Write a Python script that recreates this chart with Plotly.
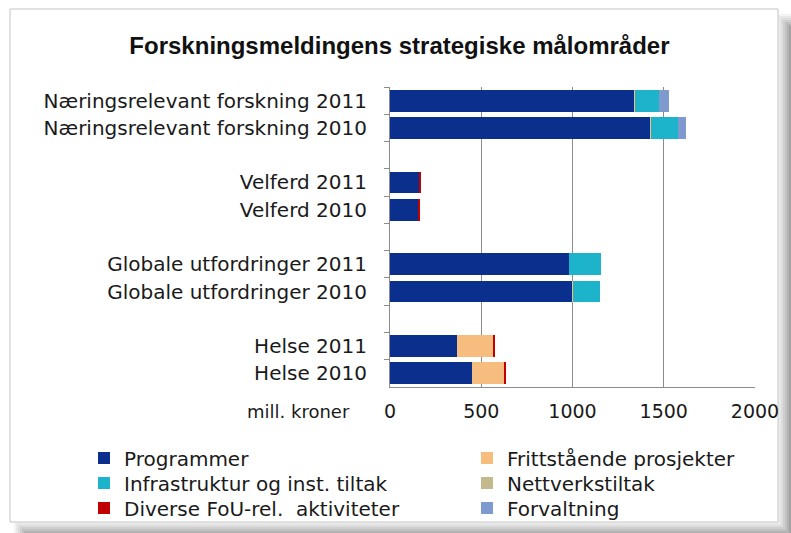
import plotly.graph_objects as go

categories = [
    "Næringsrelevant forskning 2011", "Næringsrelevant forskning 2010", " ",
    "Velferd 2011", "Velferd 2010", "  ",
    "Globale utfordringer 2011", "Globale utfordringer 2010", "   ",
    "Helse 2011", "Helse 2010",
]
programmer      = [1337, 1425, 0, 160, 156, 0, 982, 1001, 0, 369, 451]
frittstaende    = [4, 5, 0, 0, 0, 0, 0, 3, 0, 197, 176]
infrastruktur   = [135, 146, 0, 0, 0, 0, 173, 147, 0, 0, 0]
nettverkstiltak = [0, 0, 0, 0, 0, 0, 0, 0, 0, 0, 0]
diverse         = [0, 0, 0, 8, 8, 0, 0, 0, 0, 9, 9]
forvaltning     = [55, 46, 0, 0, 0, 0, 0, 0, 0, 0, 0]

series_names = ["Programmer", "Frittstående prosjekter", "Infrastruktur og inst. tiltak",
                "Nettverkstiltak", "Diverse FoU-rel.  aktiviteter", "Forvaltning"]
series_values = [programmer, frittstaende, infrastruktur, nettverkstiltak, diverse, forvaltning]
series_colors = ["#0B2F8C", "#F6BD7F", "#1DB3CB", "#C3B98C", "#C00000", "#7F9ACF"]
x_ticks = [0, 500, 1000, 1500, 2000]

W, H = 791, 533
L, R, T, B = 390, 755, 87, 387

def px(xp):
    return (xp - L) / (R - L)

def py(yp):
    return (B - yp) / (B - T)

leg_pos = [(84, 458), (467, 458), (84, 483), (467, 483), (84, 508), (467, 508)]

fig = go.Figure()
legends = {}
for i, (name, vals, col) in enumerate(zip(series_names, series_values, series_colors)):
    lname = "legend" if i == 0 else f"legend{i + 1}"
    fig.add_trace(go.Bar(
        y=categories, x=vals, name=name, orientation="h",
        marker=dict(color=col, line=dict(width=0)),
        legend=lname, showlegend=True, hoverinfo="skip",
    ))
    lx, ly = leg_pos[i]
    legends[lname] = dict(x=px(lx), xanchor="left", y=py(ly), yanchor="middle",
                          font=dict(size=20, color="#1a1a1a"), bgcolor="rgba(0,0,0,0)",
                          itemwidth=30, visible=True)

shapes = []
grays = ["#f4f4f4", "#e8e8e8", "#dcdcdc", "#cfcfcf", "#c2c2c2", "#b3b3b3", "#a3a3a3"]
for i, g in enumerate(grays):
    off = 2 * i
    shapes.append(dict(type="rect", xref="paper", yref="paper",
                       x0=px(777 + off), x1=px(792), y0=py(534), y1=py(14 + off),
                       fillcolor=g, line=dict(width=0), layer="below"))
    shapes.append(dict(type="rect", xref="paper", yref="paper",
                       x0=px(14 + off), x1=px(792), y0=py(534), y1=py(521 + off),
                       fillcolor=g, line=dict(width=0), layer="below"))
shapes.append(dict(type="rect", xref="paper", yref="paper",
                   x0=px(10), x1=px(778), y0=py(522), y1=py(9),
                   fillcolor="white", line=dict(color="#c4c4c4", width=1), layer="below"))

fig.update_layout(
    width=W, height=H,
    showlegend=True,
    hovermode=False,
    margin=dict(l=L, r=W - R, t=T, b=H - B, autoexpand=False),
    barmode="stack",
    bargap=0.2,
    paper_bgcolor="white",
    plot_bgcolor="rgba(0,0,0,0)",
    font=dict(family="DejaVu Sans", size=20, color="#1a1a1a"),
    title=dict(text="<b>Forskningsmeldingens strategiske målområder</b>",
               x=0.505, xref="container", xanchor="center",
               y=1 - 46 / H, yref="container", yanchor="middle",
               font=dict(family="Liberation Sans", size=24, color="#111")),
    xaxis=dict(range=[0, 2000], tickvals=x_ticks, showgrid=True, gridcolor="#8c8c8c", gridwidth=1,
               zeroline=False, showline=True, linecolor="#8c8c8c", ticks="", automargin=False,
               ticklabelstandoff=7, tickfont=dict(size=19)),
    yaxis=dict(categoryorder="array", categoryarray=categories, autorange=False, automargin=False,
               range=[10.5, -0.5], showline=True, linecolor="#8c8c8c", ticks="outside",
               tickson="boundaries", ticklen=5, tickcolor="#8c8c8c", showgrid=False,
               ticklabelstandoff=18, tickfont=dict(size=20)),
    shapes=shapes,
    annotations=[dict(text="mill. kroner", xref="paper", yref="paper",
                      x=px(352), y=py(411), xanchor="right", yanchor="middle",
                      showarrow=False, font=dict(size=18))],
    **legends,
)

fig.write_html("out.html", config={"displayModeBar": False},
               post_script="document.body.style.margin='0';")
